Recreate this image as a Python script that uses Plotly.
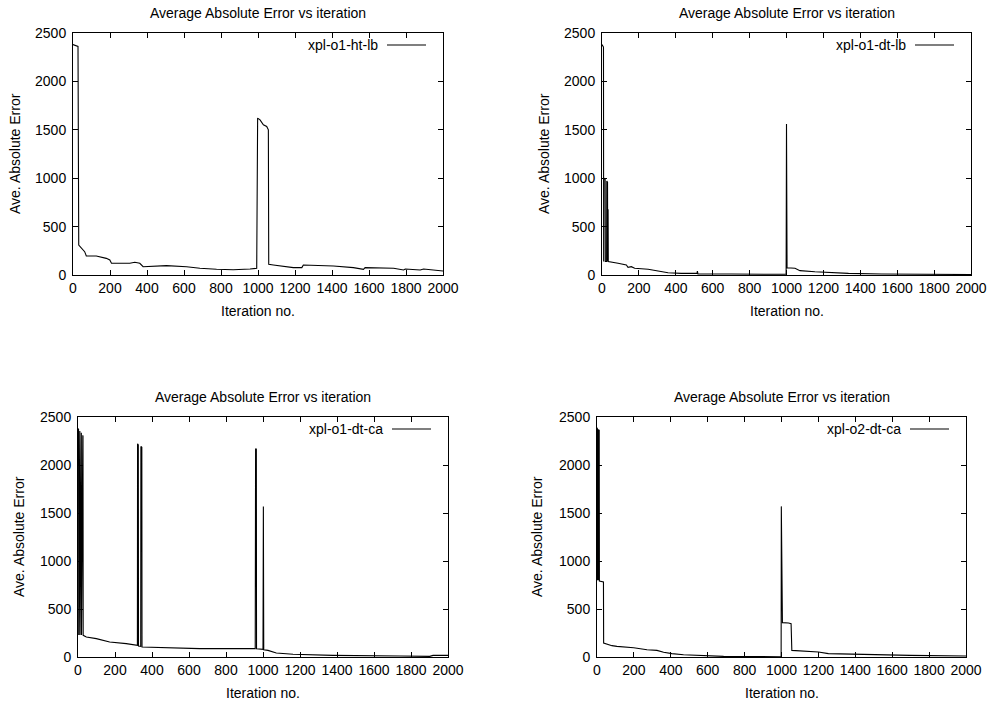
import plotly.graph_objects as go

# ---------------- data ----------------
iter_ht_lb = [0, 27, 31, 45, 63, 72, 126, 180, 199, 208, 307, 334, 361, 379, 505, 614, 686, 776, 866, 957, 993,
              998, 1011, 1029, 1047, 1056, 1058, 1083, 1137, 1191, 1237, 1245, 1408, 1516, 1570, 1579, 1733,
              1787, 1796, 1877, 1895, 2000]
err_ht_lb = [2380, 2362, 310, 276, 241, 197, 197, 172, 155, 121, 121, 131, 121, 86, 97, 86, 69, 59, 55, 62, 69,
             1621, 1603, 1552, 1534, 1500, 110, 103, 86, 76, 76, 103, 93, 76, 59, 76, 69,
             52, 62, 52, 62, 41]

iter_o1_dt_lb = [0, 8, 9, 10, 17, 18, 25, 26, 30, 31, 33, 34, 87, 132, 141, 159, 177, 250, 304, 358, 430,
                 515, 517, 520, 700, 998, 1000, 1003, 1046, 1073, 1154, 1245, 1336, 1516, 1787, 2000]
err_o1_dt_lb = [2380, 2355, 140, 1000, 990, 140, 140, 970, 960, 140, 680, 138, 121, 103, 79, 86, 69, 59, 41, 24, 17,
                17, 41, 12, 10, 7, 1560, 75, 69, 45, 34, 24, 17, 10, 7, 5]

iter_o1_dt_ca = [0, 3, 4, 10, 11, 18, 19, 26, 27, 28, 45, 99, 135, 171, 261,
                 321, 322, 326, 327, 339, 340, 345, 346, 477, 658, 958, 960, 964, 965, 1000, 1002, 1004, 1027,
                 1072, 1162, 1378, 1739, 1901, 1919, 2000]
err_o1_dt_ca = [2380, 2372, 230, 2355, 230, 2335, 230, 2309, 2300, 226, 208, 191, 174, 156, 139,
                122, 2222, 2210, 115, 112, 2194, 2185, 104, 94, 87, 87, 2170, 2165, 85, 80, 1569, 76, 69,
                42, 28, 17, 10, 7, 17, 17]

iter_o2_dt_ca = [0, 2, 3, 7, 8, 12, 13, 32, 35, 36, 54, 81, 108, 199, 271, 325, 361, 406, 469, 578, 686,
                 993, 998, 999, 1001, 1002, 1004, 1005, 1038, 1052, 1056, 1137, 1200, 1254, 1408, 1588, 1697, 2000]
err_o2_dt_ca = [2389, 2380, 800, 2372, 800, 2368, 792, 781, 781, 146, 132, 118, 111, 97, 76, 69,
                49, 35, 24, 17, 7,
                3, 3, 1569, 400, 1569, 358, 358, 354, 347, 69, 62, 52, 35, 28, 24, 17, 10]

series_names = ["xpl-o1-ht-lb", "xpl-o1-dt-lb", "xpl-o1-dt-ca", "xpl-o2-dt-ca"]
x_ticks = [0, 200, 400, 600, 800, 1000, 1200, 1400, 1600, 1800, 2000]
y_ticks = [0, 500, 1000, 1500, 2000, 2500]
title_text = "Average Absolute Error vs iteration"
x_title = "Iteration no."
y_title = "Ave. Absolute Error"

# ---------------- layout geometry (pixels) ----------------
W, H = 989, 703
FONT = "Liberation Sans, Arial, sans-serif"
FS = 14
# plot areas: (left, right, top, bottom)
boxes = [(73, 443, 33, 275), (602, 971, 33, 275), (78, 448, 417, 657), (597, 966, 417, 657)]
ytitle_x = [15, 544, 19, 537]


def px(x):
    return x / W


def py(y):
    return 1 - y / H


fig = go.Figure()
data = [(iter_ht_lb, err_ht_lb), (iter_o1_dt_lb, err_o1_dt_lb),
        (iter_o1_dt_ca, err_o1_dt_ca), (iter_o2_dt_ca, err_o2_dt_ca)]

annotations = []
shapes = []
for i, ((xs, ys), name, box) in enumerate(zip(data, series_names, boxes)):
    n = "" if i == 0 else str(i + 1)
    fig.add_trace(go.Scatter(x=xs, y=ys, mode="lines", name=name,
                             line=dict(color="black", width=1.1),
                             xaxis="x" + n, yaxis="y" + n, showlegend=False))
    l, r, t, b = box
    ax_common = dict(ticks="inside", ticklen=5, tickcolor="black", tickwidth=1,
                     showline=True, linecolor="black", linewidth=1, mirror="ticks",
                     showgrid=False, zeroline=False, automargin=False,
                     tickfont=dict(family=FONT, size=FS, color="black"))
    fig.update_layout(**{
        "xaxis" + n: dict(domain=[px(l), px(r)], anchor="y" + n, range=[0, 2000],
                          tickvals=x_ticks, ticktext=[str(v) for v in x_ticks], **ax_common),
        "yaxis" + n: dict(domain=[py(b), py(t)], anchor="x" + n, range=[0, 2500],
                          tickvals=y_ticks, ticktext=[str(v) for v in y_ticks],
                          ticklabelstandoff=3, **ax_common),
    })
    cx = (l + r) / 2
    annotations.append(dict(text=title_text, x=px(cx), y=py(t - 20), xref="paper", yref="paper",
                            showarrow=False, xanchor="center", yanchor="middle",
                            font=dict(family=FONT, size=FS, color="black")))
    annotations.append(dict(text=x_title, x=px(cx), y=py(b + 36), xref="paper", yref="paper",
                            showarrow=False, xanchor="center", yanchor="middle",
                            font=dict(family=FONT, size=FS, color="black")))
    annotations.append(dict(text=y_title, x=px(ytitle_x[i]), y=py((t + b) / 2), xref="paper", yref="paper",
                            showarrow=False, xanchor="center", yanchor="middle", textangle=-90,
                            font=dict(family=FONT, size=FS, color="black")))
    # key (legend) in gnuplot style: text then line sample
    ky = t + 12
    annotations.append(dict(text=name, x=px(r - 63), y=py(ky), xref="paper", yref="paper",
                            showarrow=False, xanchor="right", yanchor="middle",
                            font=dict(family=FONT, size=FS, color="black")))
    shapes.append(dict(type="line", xref="paper", yref="paper", x0=px(r - 56), x1=px(r - 17),
                       y0=py(ky), y1=py(ky), line=dict(color="black", width=1.1)))

fig.update_layout(width=W, height=H, margin=dict(l=0, r=0, t=0, b=0, autoexpand=False),
                  paper_bgcolor="white", plot_bgcolor="white",
                  annotations=annotations, shapes=shapes, showlegend=False)

fig.write_html("out.html")
